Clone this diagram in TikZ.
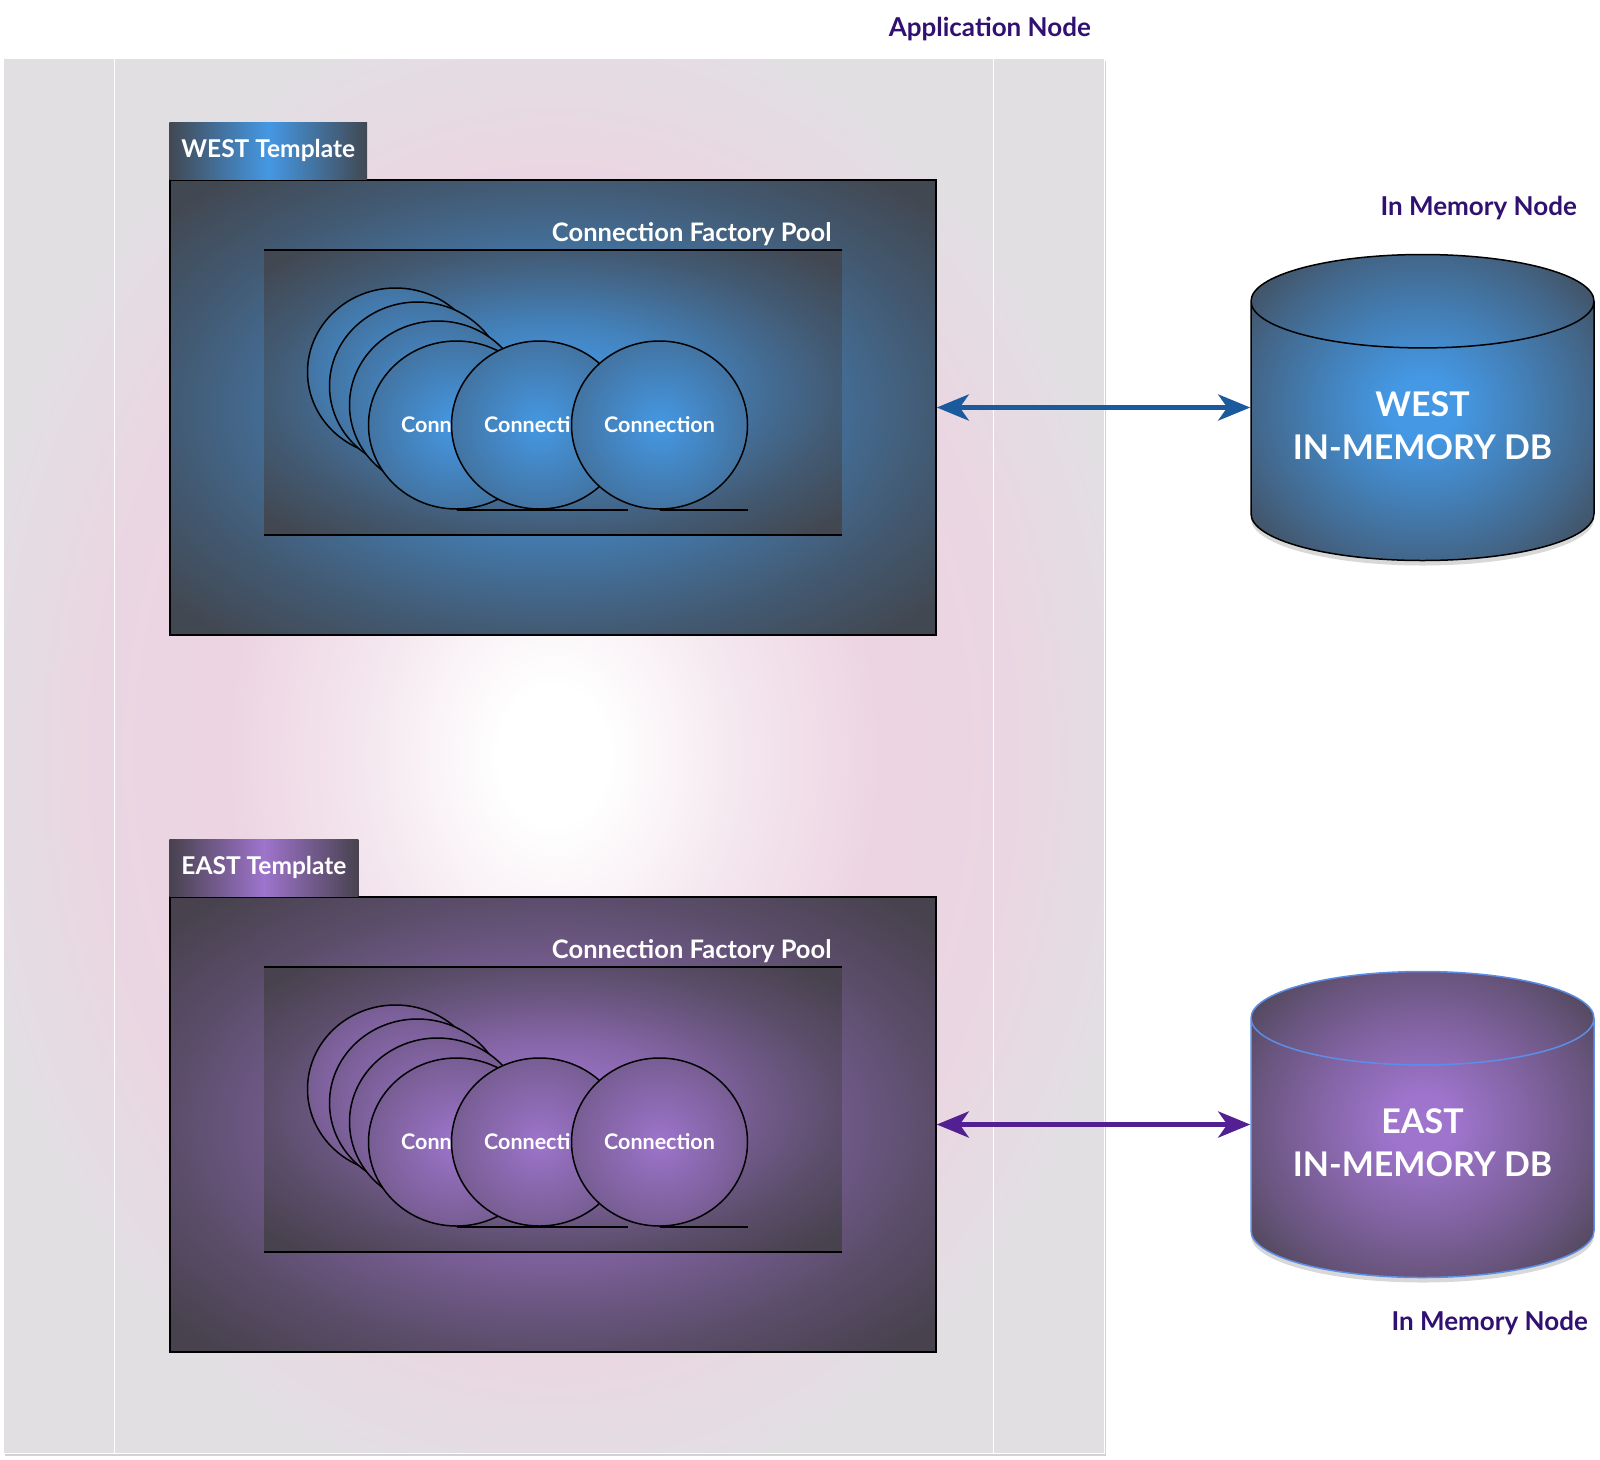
\documentclass[tikz,border=0pt]{standalone}
\usepackage{fontspec}
\setmainfont{Lato}
\usetikzlibrary{positioning,shapes.geometric,arrows.meta,shadows}

\definecolor{nodeink}{RGB}{48,16,112}
\definecolor{westhi}{RGB}{68,152,228}
\definecolor{westlo}{RGB}{66,72,82}
\definecolor{westline}{RGB}{28,90,158}
\definecolor{easthi}{RGB}{158,116,204}
\definecolor{eastlo}{RGB}{72,66,78}
\definecolor{eastline}{RGB}{82,32,146}
\definecolor{eastrim}{RGB}{92,142,232}
\definecolor{apppink}{RGB}{236,212,226}
\definecolor{appgray}{RGB}{226,223,227}

% soft glows for the panel, the templates and the two databases
\pgfdeclareradialshading{appglow}{\pgfpoint{0bp}{0bp}}{color(0bp)=(white); color(2.5bp)=(white); color(9bp)=(white!40!apppink); color(15bp)=(apppink); color(21bp)=(apppink!80!appgray); color(27bp)=(appgray); color(100bp)=(appgray)}
\pgfdeclareradialshading{westglow}{\pgfpoint{0bp}{0bp}}{color(0bp)=(westhi); color(3bp)=(westhi); color(12bp)=(westhi!72!westlo); color(20bp)=(westhi!40!westlo); color(25bp)=(westhi!22!westlo); color(33bp)=(westlo); color(100bp)=(westlo)}
\pgfdeclareradialshading{eastglow}{\pgfpoint{0bp}{0bp}}{color(0bp)=(easthi); color(3bp)=(easthi); color(12bp)=(easthi!72!eastlo); color(20bp)=(easthi!40!eastlo); color(25bp)=(easthi!22!eastlo); color(33bp)=(eastlo); color(100bp)=(eastlo)}
\pgfdeclareradialshading{westorb}{\pgfpoint{0bp}{0bp}}{color(0bp)=(westhi); color(5bp)=(westhi); color(15bp)=(westhi!70!westlo); color(25bp)=(westhi!38!westlo); color(35bp)=(westlo); color(100bp)=(westlo)}
\pgfdeclareradialshading{eastorb}{\pgfpoint{0bp}{0bp}}{color(0bp)=(easthi); color(5bp)=(easthi); color(15bp)=(easthi!70!eastlo); color(25bp)=(easthi!38!eastlo); color(35bp)=(eastlo); color(100bp)=(eastlo)}

\tikzset{
  apppanel/.style={minimum width=1101, minimum height=1395, inner sep=0, shading=appglow, draw=white, line width=1, drop shadow={opacity=.35, shadow xshift=2pt, shadow yshift=-3pt}},
  tmplbox/.style={minimum width=766, minimum height=455, inner sep=0, draw=black, line width=1.5},
  tmpltab/.style={anchor=south west, minimum height=57, inner xsep=12, inner ysep=0, text=white, font=\fontsize{24.5}{28}\selectfont\bfseries},
  poolarea/.style={minimum width=577, minimum height=285, inner sep=0},
  poolrule/.style={line width=2, black},
  pooltitle/.style={anchor=base east, inner sep=0, text=white, font=\fontsize{25.5}{30}\selectfont\bfseries},
  conn/.style={ellipse, minimum width=176, minimum height=168, inner sep=0, draw=black, line width=1.5, text=white, font=\fontsize{21.5}{25}\selectfont\bfseries},
  memdb/.style={cylinder, shape border rotate=90, aspect=0.36, minimum width=343, minimum height=306, inner sep=0, text depth=12pt, line width=1.5, anchor=shape center, align=center, text=white, font=\fontsize{34}{43}\selectfont\bfseries, drop shadow={opacity=.3, shadow xshift=0pt, shadow yshift=-5pt}},
  dblink/.style={line width=5, {Stealth[length=32pt, width=26pt, inset=9pt]}-{Stealth[length=32pt, width=26pt, inset=9pt]}},
  nodelabel/.style={anchor=east, inner sep=0, text=nodeink, font=\fontsize{26}{30}\selectfont\bfseries}
}

\begin{document}
\begin{tikzpicture}[x=1pt, y=-1pt]
\fill[white] (0,0) rectangle (1600,1459);
\useasboundingbox (0,0) rectangle (1600,1459);

\node[apppanel] (app) at (553.5,755.5) {};
\draw[white, line width=1.5] ([xshift=112]app.north west) -- ([xshift=112]app.south west)
  ([xshift=-111]app.north east) -- ([xshift=-111]app.south east);
\node[nodelabel] (app-label) at (1091,29) {Application Node};

\foreach \side/\cy/\tname/\rim in {west/407.5/WEST/black, east/1124.5/EAST/eastrim}{
  \node[tmplbox, shading=\side glow] (\side-box) at (553,\cy) {};
  \node[tmpltab, left color=\side lo, right color=\side lo, middle color=\side hi] (\side-tab) at (\side-box.north west) {\tname\ Template};
  \node[poolarea, shading=\side glow] (\side-pool) at ([yshift=15]\side-box.center) {};
  \draw[poolrule] (\side-pool.north west) -- (\side-pool.north east) (\side-pool.south west) -- (\side-pool.south east);
  \node[pooltitle] (\side-pooltitle) at ([xshift=-10, yshift=8]\side-pool.north east) {Connection Factory Pool};
  \begin{scope}[shift={(\side-pool.center)}]
    \foreach \bx/\by [count=\k] in {-157.5/-20.5, -135.5/-6.5, -115.5/12.5}
      \node[conn, inner color=\side hi, outer color=\side hi!55!\side lo] (\side-back\k) at (\bx,\by) {};
    \foreach \bx [count=\k] in {-96.5, -13.5, 106.5}{
      \node[conn, inner color=\side hi, outer color=\side hi!55!\side lo] (\side-conn\k) at (\bx,32.5) {Connection};
      \draw[poolrule] (\side-conn\k.south) -- (\side-conn\k.south -| \side-conn\k.east);
    }
  \end{scope}
  \node[memdb, draw=\rim, shading=\side orb] (\side-db) at (1422.5,\cy) {\tname\\IN-MEMORY DB};
  \draw[dblink, draw=\side line] (\side-box.east) -- (\side-box.east -| \side-db.west);
}
\node[nodelabel] (west-dblabel) at (1577,208) {In Memory Node};
\node[nodelabel] (east-dblabel) at (1588,1323) {In Memory Node};
\end{tikzpicture}
\end{document}
